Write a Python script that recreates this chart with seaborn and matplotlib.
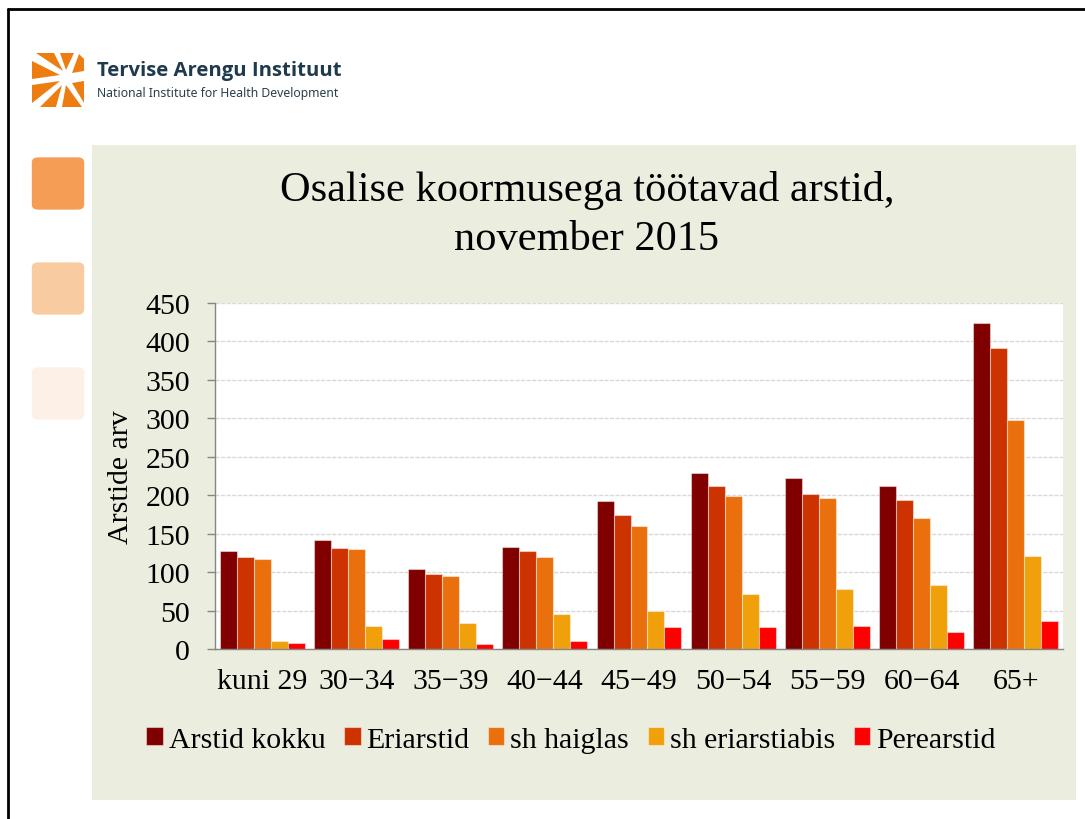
import numpy as np
import pandas as pd
import matplotlib
matplotlib.use("Agg")
import matplotlib.pyplot as plt
from matplotlib.patches import Rectangle, FancyBboxPatch, Polygon
from matplotlib.lines import Line2D
import seaborn as sns

# data
age_groups = ["kuni 29", "30\u221234", "35\u221239", "40\u221244", "45\u221249",
              "50\u221254", "55\u221259", "60\u221264", "65+"]
series_names = ["Arstid kokku", "Eriarstid", "sh haiglas", "sh eriarstiabis", "Perearstid"]
arstid_kokku = [127, 142, 104, 133, 192, 229, 222, 212, 424]
eriarstid = [120, 132, 98, 127, 174, 212, 202, 194, 391]
sh_haiglas = [117, 130, 95, 120, 160, 199, 196, 171, 298]
sh_eriarstiabis = [10, 30, 34, 46, 50, 71, 78, 83, 121]
perearstid = [8, 13, 7, 11, 29, 29, 30, 22, 37]
y_ticks = [0, 50, 100, 150, 200, 250, 300, 350, 400, 450]

colors = ["#800000", "#CC3300", "#EA700E", "#F0A00A", "#FF0000"]

values = [arstid_kokku, eriarstid, sh_haiglas, sh_eriarstiabis, perearstid]
df = pd.DataFrame({
    "vanus": np.tile(age_groups, len(series_names)),
    "seeria": np.repeat(series_names, len(age_groups)),
    "arv": np.concatenate(values),
})

W, H = 1085, 820


def fx(x):
    return x / W


def fy(y):
    return 1 - y / H


sns.set_style("white")
plt.rcParams["font.family"] = ["Liberation Serif", "DejaVu Serif"]
plt.rcParams["text.color"] = "black"
plt.rcParams["axes.labelcolor"] = "black"
plt.rcParams["xtick.color"] = "black"
plt.rcParams["ytick.color"] = "black"

fig = plt.figure(figsize=(W / 100, H / 100), dpi=100)
fig.patch.set_facecolor("white")

# slide border (top and left)
fig.add_artist(Line2D([fx(8), fx(8)], [fy(10), 0], color="black", lw=2))
fig.add_artist(Line2D([fx(8), 1], [fy(10), fy(10)], color="black", lw=2))

# green panel
fig.add_artist(Rectangle((fx(92), fy(801)), fx(1076) - fx(92), fy(146) - fy(801),
                         facecolor="#EBEEDF", edgecolor="none", zorder=0))

# decorative squares on the left
for top, col in [(158, "#F59C55"), (263, "#F9CBA0"), (368, "#FDF0E6")]:
    fig.add_artist(FancyBboxPatch((fx(34), fy(top + 51)), fx(48), fy(0) - fy(49),
                                  boxstyle="round,pad=0.002,rounding_size=0.006",
                                  facecolor=col, edgecolor="none"))

# logo: orange wedges around a white centre
wedges = [
    [(32, 62), (32, 80), (60, 76)],
    [(32, 86), (32, 104), (60, 82)],
    [(36, 54), (54, 54), (63, 72)],
    [(60, 54), (74, 54), (66, 71)],
    [(79, 55), (84, 60), (84, 72), (72, 74)],
    [(84, 82), (84, 104), (72, 84)],
    [(66, 86), (82, 108), (62, 108)],
    [(62, 86), (56, 108), (40, 108)],
]
for pts in wedges:
    fig.add_artist(Polygon([(fx(x), fy(y)) for x, y in pts], closed=True,
                           facecolor="#EE7D11", edgecolor="none"))
fig.text(fx(97), fy(71), "Tervise Arengu Instituut",
         family=["Open Sans", "Lato", "DejaVu Sans"],
         fontweight="bold", fontsize=14.6, color="#1E3A4C", va="center", ha="left")
fig.text(fx(97), fy(93), "National Institute for Health Development",
         family=["Noto Sans", "DejaVu Sans"], fontsize=8.8, color="#2A3E4C",
         va="center", ha="left")

# title
fig.text(fx(587), fy(190), "Osalise koormusega töötavad arstid,", fontsize=30.5,
         ha="center", va="center")
fig.text(fx(587), fy(240), "november 2015", fontsize=30.5, ha="center", va="center")

# chart
ax = fig.add_axes([fx(215), fy(650), fx(1063) - fx(215), fy(304) - fy(650)])
ax.set_facecolor("white")
sns.barplot(data=df, x="vanus", y="arv", hue="seeria", palette=colors,
            saturation=1, width=0.9, gap=0, ax=ax, edgecolor=(1, 1, 1, 0.45),
            linewidth=0.8, legend=True, zorder=3)

ax.set_ylim(0, 450)
ax.set_xlim(-0.5, len(age_groups) - 0.5)
ax.set_yticks(y_ticks)
ax.yaxis.grid(True, color="#D9D9D9", linestyle=(0, (3, 1)), linewidth=1, zorder=0)
ax.set_axisbelow(True)
for side in ["top", "right"]:
    ax.spines[side].set_visible(False)
for side in ["left", "bottom"]:
    ax.spines[side].set_color("#868686")
    ax.spines[side].set_linewidth(1)
    ax.spines[side].set_zorder(5)

ax.set_xticks(np.arange(-0.5, len(age_groups), 1), minor=True)
ax.tick_params(axis="x", which="major", length=0, pad=14, labelsize=21.5)
ax.tick_params(axis="x", which="minor", length=6, color="#868686", width=1)
ax.tick_params(axis="y", which="major", length=6, color="#868686", width=1,
               pad=12, labelsize=21.5, left=True, labelcolor="black")
ax.tick_params(axis="x", labelcolor="black")

ax.set_xlabel("")
ax.set_ylabel("Arstide arv", fontsize=21.5, labelpad=8, color="black")

handles, labels = ax.get_legend_handles_labels()
ax.get_legend().remove()
fig.legend(handles, labels, loc="center", bbox_to_anchor=(fx(571), fy(741)),
           ncol=5, frameon=False, fontsize=21.5, handlelength=0.55,
           handleheight=0.55, handletextpad=0.2, columnspacing=0.62,
           borderaxespad=0)

fig.savefig("out.png", dpi=100, facecolor=fig.get_facecolor())
